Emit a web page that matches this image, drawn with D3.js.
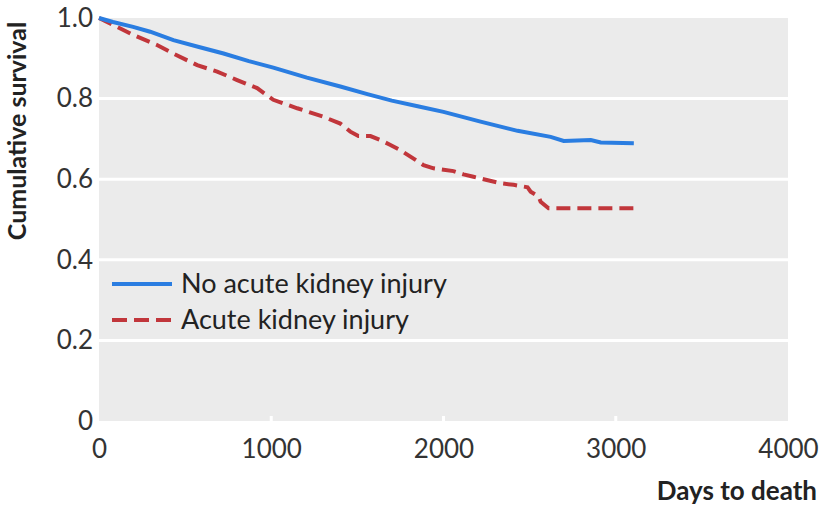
<!DOCTYPE html>
<html>
<head>
<meta charset="utf-8">
<script src="https://cdn.jsdelivr.net/npm/d3@7"></script>
<style>
  body { margin: 0; background: #fff; }
  svg text { font-family: Lato, "Open Sans", sans-serif; }
</style>
</head>
<body>
<div id="chart"></div>
<script>
// chart data
var xTicks = [0, 1000, 2000, 3000, 4000];
var yTicks = [0, 0.2, 0.4, 0.6, 0.8, 1.0];
var yTickLabels = ["0", "0.2", "0.4", "0.6", "0.8", "1.0"];

var noAkiDays = [0, 81, 198, 297, 432, 580, 723, 870, 1012, 1207, 1401, 1558, 1700, 1850, 2000, 2215, 2430, 2622, 2698, 2855, 2913, 3105];
var noAkiSurv = [1.0, 0.99, 0.978, 0.966, 0.945, 0.928, 0.912, 0.893, 0.877, 0.852, 0.83, 0.811, 0.795, 0.781, 0.767, 0.743, 0.72, 0.705, 0.695, 0.697, 0.691, 0.689];

var akiDays = [0, 81, 198, 337, 430, 570, 686, 802, 918, 1012, 1151, 1302, 1401, 1459, 1506, 1576, 1634, 1692, 1750, 1808, 1884, 1942, 2058, 2116, 2174, 2233, 2331, 2407, 2488, 2506, 2552, 2564, 2610, 3105];
var akiSurv = [1.0, 0.983, 0.958, 0.933, 0.912, 0.883, 0.867, 0.846, 0.826, 0.797, 0.776, 0.755, 0.738, 0.718, 0.707, 0.707, 0.697, 0.685, 0.672, 0.656, 0.635, 0.627, 0.62, 0.612, 0.606, 0.6, 0.59, 0.586, 0.58, 0.569, 0.557, 0.544, 0.528, 0.528];

var seriesNames = ["No acute kidney injury", "Acute kidney injury"];
var seriesColors = ["#2a7de1", "#c1363b"];

// sizes
var width = 820, height = 508;
var margin = { top: 18, right: 32, bottom: 87, left: 99 };
var chartWidth = width - margin.left - margin.right;
var chartHeight = height - margin.top - margin.bottom;

var svg = d3.select("#chart").append("svg")
   .attr("width", width)
   .attr("height", height);

var chart = svg.append("g")
   .attr("transform", `translate(${margin.left},${margin.top})`);

var x = d3.scaleLinear().domain([0, 4000]).range([0, chartWidth]);
var y = d3.scaleLinear().domain([0, 1]).range([chartHeight, 0]);

// grey panel
chart.append("rect")
   .attr("width", chartWidth)
   .attr("height", chartHeight)
   .attr("fill", "#ebebeb");

// horizontal gridlines
chart.selectAll("line.grid")
   .data(yTicks.filter(d => d > 0 && d < 1))
   .enter().append("line")
   .attr("x1", 0).attr("x2", chartWidth)
   .attr("y1", d => y(d)).attr("y2", d => y(d))
   .attr("stroke", "#fff")
   .attr("stroke-width", 3);

// small white ticks at panel bottom
chart.selectAll("line.xtick")
   .data(xTicks.filter(d => d > 0 && d < 4000))
   .enter().append("line")
   .attr("x1", d => x(d)).attr("x2", d => x(d))
   .attr("y1", chartHeight).attr("y2", chartHeight - 5)
   .attr("stroke", "#fff")
   .attr("stroke-width", 3);

// axes (labels only)
var bottomAxis = d3.axisBottom(x).tickValues(xTicks).tickSize(0).tickPadding(19).tickFormat(d3.format("d"));
var leftAxis = d3.axisLeft(y).tickValues(yTicks).tickSize(0).tickPadding(6).tickFormat((d, i) => yTickLabels[i]);

var gx = chart.append("g")
   .attr("transform", `translate(0,${chartHeight})`)
   .call(bottomAxis);
var gy = chart.append("g").call(leftAxis);

[gx, gy].forEach(g => {
   g.select(".domain").remove();
   g.selectAll("text")
      .attr("fill", "#333")
      .style("font-size", "26px")
      .style("font-family", "Lato, sans-serif");
});

// survival lines
var line = d3.line()
   .x(d => x(d[0]))
   .y(d => y(d[1]));

var noAki = noAkiDays.map((d, i) => [d, noAkiSurv[i]]);
var aki = akiDays.map((d, i) => [d, akiSurv[i]]);

chart.append("path")
   .datum(aki)
   .attr("d", line)
   .attr("fill", "none")
   .attr("stroke", seriesColors[1])
   .attr("stroke-width", 4)
   .attr("stroke-dasharray", "14,7");

chart.append("path")
   .datum(noAki)
   .attr("d", line)
   .attr("fill", "none")
   .attr("stroke", seriesColors[0])
   .attr("stroke-width", 4);

// legend
var legend = svg.append("g").attr("transform", "translate(112,284)");
seriesNames.forEach((name, i) => {
   var row = legend.append("g").attr("transform", `translate(0,${i * 36})`);
   row.append("line")
      .attr("x1", 0).attr("x2", 60)
      .attr("stroke", seriesColors[i])
      .attr("stroke-width", 4)
      .attr("stroke-dasharray", i == 1 ? "15,7" : null);
   row.append("text")
      .attr("x", 69)
      .attr("y", 9)
      .attr("fill", "#222")
      .style("font-size", "27px")
      .text(name);
});

// axis titles
svg.append("text")
   .attr("transform", "translate(26,131) rotate(-90)")
   .attr("text-anchor", "middle")
   .attr("fill", "#222")
   .style("font-size", "25px")
   .style("font-weight", "bold")
   .text("Cumulative survival");

svg.append("text")
   .attr("x", 817)
   .attr("y", 500)
   .attr("text-anchor", "end")
   .attr("fill", "#222")
   .style("font-size", "26px")
   .style("font-weight", "bold")
   .text("Days to death");
</script>
</body>
</html>
